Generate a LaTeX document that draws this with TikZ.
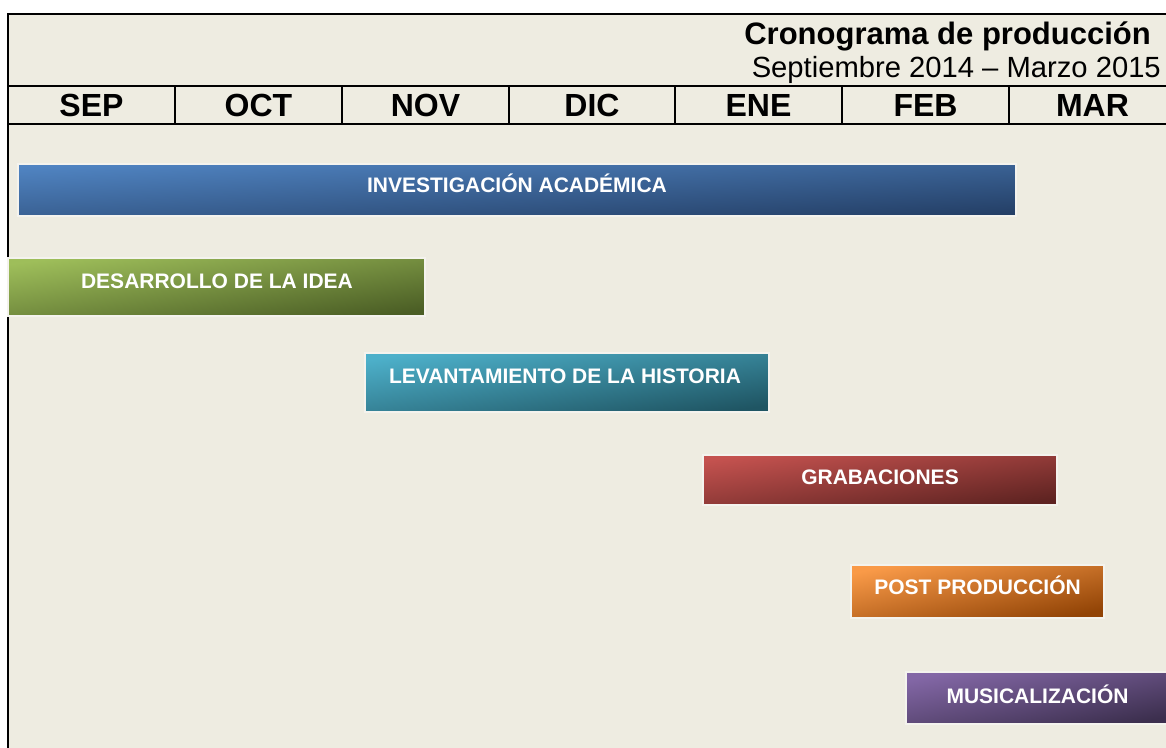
\documentclass[tikz,border=0pt]{standalone}
\usepackage{fontspec}
\setmainfont{Liberation Sans}
\definecolor{bgtan}{HTML}{EEECE1}
\definecolor{barline}{HTML}{F4F3EE}
\definecolor{blueL}{HTML}{5084C2}\definecolor{blueD}{HTML}{243F66}
\definecolor{greenL}{HTML}{9EBE5A}\definecolor{greenD}{HTML}{4B5E25}
\definecolor{aquaL}{HTML}{4DB0CA}\definecolor{aquaD}{HTML}{1F5563}
\definecolor{redL}{HTML}{C4524F}\definecolor{redD}{HTML}{5E2321}
\definecolor{orangeL}{HTML}{F99A48}\definecolor{orangeD}{HTML}{924406}
\definecolor{purpleL}{HTML}{8367A6}\definecolor{purpleD}{HTML}{3C2F4E}
\begin{document}
\begin{tikzpicture}[x=1pt,y=-1pt,
  frame/.style={line width=1.6pt,black},
  month/.style={anchor=base,inner sep=0pt,font=\fontsize{32}{32}\selectfont\bfseries},
  bar/.style 2 args={draw=barline,line width=2.2pt,inner sep=0pt,top color=#1L,bottom color=#1D,shading angle=#2},
  lbl/.style={anchor=base,inner sep=0pt,text=white,font=\fontsize{21}{21}\selectfont\bfseries}]
\useasboundingbox (0,0) rectangle (1166,747);
\clip (0,0) rectangle (1166,747);
\fill[white] (0,0) rectangle (1166,747);
\fill[bgtan] (8,14) rectangle (1180,760);
% frame and header
\draw[frame] (8,760) -- (8,14) -- (1180,14);
\draw[frame] (8,86) -- (1180,86);
\draw[frame] (8,124) -- (1180,124);
\foreach \xx in {175,342,509,675,842,1009}
  \draw[frame] (\xx,86) -- (\xx,124);
\node[anchor=base east,inner sep=0pt,font=\fontsize{31}{31}\selectfont\bfseries] (title) at (1151,44) {Cronograma de producción};
\node[anchor=base east,inner sep=0pt,font=\fontsize{29.2}{29.2}\selectfont] (subtitle) at (1161,77) {Septiembre 2014 – Marzo 2015};
\node[month] (sep) at (91.5,116) {SEP};
\node[month] (oct) at (258.5,116) {OCT};
\node[month] (nov) at (425.5,116) {NOV};
\node[month] (dic) at (592,116) {DIC};
\node[month] (ene) at (758.5,116) {ENE};
\node[month] (feb) at (925.5,116) {FEB};
\node[month] (mar) at (1092.5,116) {MAR};
% bars
\node[bar={blue}{2.98},minimum width=998pt,minimum height=52pt] (inv) at (517,190) {};
\node[lbl] (invt) at (517,192) {INVESTIGACIÓN ACADÉMICA};
\node[bar={green}{7.92},minimum width=417pt,minimum height=58pt] (des) at (216.5,287) {};
\node[lbl] (dest) at (217,288) {DESARROLLO DE LA IDEA};
\node[bar={aqua}{8.31},minimum width=404pt,minimum height=59pt] (lev) at (567,382.5) {};
\node[lbl] (levt) at (565,383) {LEVANTAMIENTO DE LA HISTORIA};
\node[bar={red}{8.04},minimum width=354pt,minimum height=50pt] (gra) at (880,480) {};
\node[lbl] (grat) at (880,484) {GRABACIONES};
\node[bar={orange}{11.83},minimum width=253pt,minimum height=53pt] (post) at (977.5,591.5) {};
\node[lbl] (postt) at (977.5,594) {POST PRODUCCIÓN};
\node[bar={purple}{11.18},minimum width=263pt,minimum height=52pt] (mus) at (1037.5,698) {};
\node[lbl] (must) at (1037.5,703) {MUSICALIZACIÓN};
\end{tikzpicture}
\end{document}
